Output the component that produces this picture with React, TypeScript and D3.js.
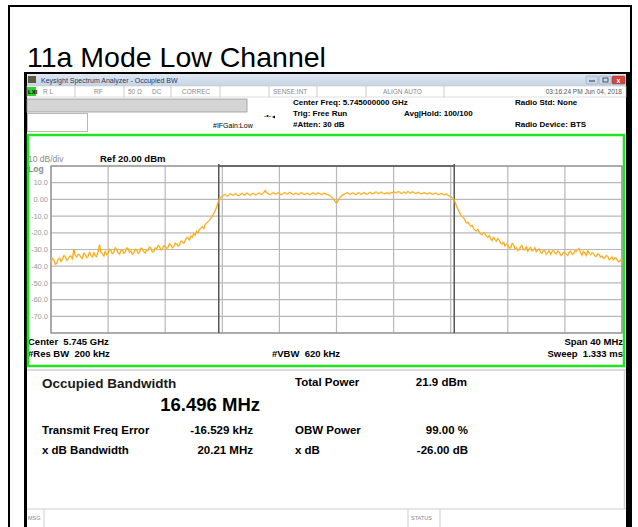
import React from 'react';
import * as d3 from 'd3';

// Page / screenshot texts
const chartTitle = '11a Mode Low Channel';
const windowTitle = 'Keysight Spectrum Analyzer - Occupied BW';
const timeStamp = '03:16:24 PM Jun 04, 2018';

// Sweep settings
const startOffsetMHz = -20; // relative to centre 5.745 GHz
const stopOffsetMHz = 20;
const stepMHz = 0.1;
const refLevelDbm = 20;
const bottomLevelDbm = -80;

// Measured trace (dBm), one value every 0.1 MHz from -20 MHz to +20 MHz
const traceDbm = [
  -37.5, -35.4, -36.2, -38.9, -38.4, -36.0, -35.1, -37.2, -36.0, -33.6, -34.2, -36.5, -35.8, -34.1, -33.9, -35.7, -29.8, -33.5, -34.6, -32.9,
  -33.2, -34.8, -35.4, -32.1, -32.8, -35.0, -34.1, -31.6, -33.5, -34.6, -31.9, -33.8, -34.3, -31.2, -27.2, -31.9, -32.4, -34.0, -31.0, -33.1,
  -32.6, -29.8, -30.4, -32.7, -31.8, -28.9, -29.7, -31.9, -32.9, -30.6, -30.2, -32.4, -31.5, -29.0, -29.4, -31.8, -30.8, -33.0, -32.1, -29.9,
  -30.0, -32.3, -31.7, -29.2, -29.5, -31.4, -32.2, -30.1, -30.6, -28.4, -29.1, -31.6, -31.3, -28.9, -29.8, -27.6, -28.2, -30.3, -29.6, -27.8,
  -27.9, -29.4, -28.8, -26.5, -27.1, -29.0, -28.3, -26.2, -26.6, -28.0, -27.4, -25.0, -25.2, -26.3, -24.6, -22.9, -23.0, -24.4, -21.8, -22.6,
  -20.4, -21.5, -19.0, -20.2, -18.1, -17.0, -16.3, -17.6, -15.2, -14.1, -13.4, -12.5, -11.2, -10.1, -8.5, -6.8, -4.6, -1.9, 0.4, 1.2,
  1.8, 2.6, 2.9, 2.1, 2.2, 3.0, 3.4, 2.5, 2.6, 3.5, 3.1, 2.3, 2.4, 3.2, 3.6, 2.7, 2.8, 3.9, 3.3, 2.6,
  2.7, 3.4, 3.5, 2.8, 2.9, 3.6, 3.8, 3.1, 3.2, 4.0, 5.4, 3.9, 3.6, 2.9, 3.0, 3.7, 4.1, 3.2, 3.3, 3.9,
  3.7, 2.9, 3.1, 3.8, 4.0, 3.3, 3.4, 4.1, 3.9, 3.2, 2.9, 3.7, 3.6, 3.0, 3.2, 3.9, 3.8, 3.1, 3.0, 3.6,
  3.5, 2.9, 3.1, 3.8, 3.7, 3.0, 3.3, 3.9, 3.6, 3.2, 3.0, 3.7, 3.4, 3.1, 2.8, 2.4, 1.9, 1.1, 0.3, -1.2,
  -2.3,
  -1.0, 0.6, 1.7, 2.4, 3.0, 3.3, 4.0, 3.8, 3.1, 3.2, 3.9, 3.6, 3.0, 3.1, 3.8, 3.9, 3.2, 3.4, 4.0,
  3.7, 3.1, 3.3, 4.1, 4.0, 3.4, 3.5, 4.2, 4.3, 3.6, 3.6, 4.3, 4.1, 3.5, 3.4, 4.0, 3.9, 3.3, 4.2, 3.8,
  4.8, 4.1, 3.9, 4.6, 4.4, 3.8, 3.7, 4.4, 4.2, 3.6, 4.9, 4.0, 3.8, 4.5, 4.3, 3.7, 3.6, 4.2, 4.0, 3.4,
  3.5, 4.0, 3.9, 3.2, 3.3, 3.9, 3.7, 3.1, 3.2, 3.8, 3.6, 3.0, 3.0, 3.5, 3.4, 2.9, 2.8, 3.1, 2.5, 2.1,
  1.6, 1.0, 0.2, -1.5, -3.8, -5.9, -7.5, -9.4, -10.2, -11.0, -12.4, -14.2, -13.6, -15.0, -16.1, -15.4, -17.4, -18.6, -18.8, -17.9,
  -19.5, -20.8, -21.2, -19.9, -20.4, -22.1, -22.8, -21.6, -23.5, -24.7, -22.6, -24.0, -25.1, -23.3, -24.4, -26.2, -26.8, -25.5, -28.0, -26.7,
  -27.4, -28.9, -29.3, -26.3, -26.9, -29.6, -28.8, -30.7, -30.1, -28.2, -27.6, -30.3, -29.9, -28.4, -31.2, -29.5, -28.7, -31.0, -30.4, -28.9,
  -31.5, -30.2, -29.6, -31.8, -32.3, -30.4, -30.8, -32.9, -31.9, -30.6, -33.0, -31.3, -30.5, -32.2, -32.6, -30.9, -31.4, -33.5, -33.2, -31.6,
  -31.8, -32.9, -33.6, -31.5, -30.9, -32.8, -32.7, -30.6, -31.2, -29.9, -29.4, -31.8, -33.4, -31.0, -32.0, -33.7, -30.7, -32.3, -33.1, -31.9,
  -32.4, -33.9, -34.2, -32.6, -32.9, -34.7, -33.8, -35.3, -35.1, -33.6, -34.0, -36.1, -35.6, -34.4, -36.3, -35.0, -35.2, -37.0, -37.4, -36.2,
  -38.1,
];

const yTickValues = [10, 0, -10, -20, -30, -40, -50, -60, -70];
const yTickLabels = ['10.0', '0.00', '-10.0', '-20.0', '-30.0', '-40.0', '-50.0', '-60.0', '-70.0'];

const obwMHz = 16.496;

// Instrument status / header texts
const statusItems = [
  { text: 'R L', x: 43 },
  { text: 'RF', x: 94 },
  { text: '50 Ω', x: 128 },
  { text: 'DC', x: 152 },
  { text: 'CORREC', x: 182 },
  { text: 'SENSE:INT', x: 273 },
  { text: 'ALIGN AUTO', x: 383 },
];
const statusDividers = [75, 124, 171, 220, 269, 317, 366, 444];
const headerLines = ['Center Freq: 5.745000000 GHz', 'Trig: Free Run', '#Atten: 30 dB'];

// Results table
const totalPower = ['Total Power', '21.9 dBm'];
const resultRows = [
  ['Transmit Freq Error', '-16.529 kHz', 'OBW Power', '99.00 %'],
  ['x dB Bandwidth', '20.21 MHz', 'x dB', '-26.00 dB'],
];

const FONT = 'Arial, "Liberation Sans", sans-serif';
const pre = { whiteSpace: 'pre' as const };

const App = () => {
  const left = 51;
  const right = 622;
  const top = 166;
  const bottom = 333;

  const x = d3.scaleLinear().domain([startOffsetMHz, stopOffsetMHz]).range([left, right]);
  const y = d3.scaleLinear().domain([bottomLevelDbm, refLevelDbm]).range([bottom, top]);

  const line = d3
    .line<number>()
    .x((_, i) => x(startOffsetMHz + i * stepMHz))
    .y((d) => y(d));
  const tracePath = line(traceDbm) ?? '';

  const xGrid = d3.range(startOffsetMHz, stopOffsetMHz + 0.01, 4);
  const yGrid = d3.range(bottomLevelDbm, refLevelDbm + 0.01, 10);
  const obwLeft = x(-obwMHz / 2);
  const obwRight = x(obwMHz / 2);

  return (
    <svg
      width={638}
      height={527}
      style={{ position: 'absolute', left: 0, top: 0, background: '#fff' }}
      fontFamily={FONT}
    >
      {/* outer page frame */}
      <rect x={8} y={5} width={2} height={522} fill="#000" />
      <rect x={8} y={5} width={624} height={2} fill="#000" />
      <rect x={630} y={5} width={2} height={522} fill="#000" />

      <text x={27} y={67} fontSize={28.5} fill="#000">{chartTitle}</text>

      {/* screenshot frame */}
      <rect x={24} y={72} width={606} height={455} fill="#fff" />
      <rect x={24} y={72} width={606} height={2} fill="#000" />
      <rect x={24} y={72} width={3} height={455} fill="#000" />
      <rect x={626} y={72} width={4} height={455} fill="#000" />

      {/* window title bar */}
      <defs>
        <linearGradient id="tb" x1="0" x2="0" y1="0" y2="1">
          <stop offset="0" stopColor="#dfe8f3" />
          <stop offset="1" stopColor="#c7d4e4" />
        </linearGradient>
      </defs>
      <rect x={27} y={74} width={599} height={12} fill="url(#tb)" />
      <rect x={28} y={76} width={8} height={7} fill="#5a5a3c" />
      <text x={41} y={83} fontSize={7} fill="#1f3a5f">{windowTitle}</text>
      <rect x={586} y={76} width={12} height={8} rx={1} fill="#c9daee" stroke="#8a9bb0" strokeWidth={0.5} />
      <rect x={599} y={76} width={12} height={8} rx={1} fill="#c9daee" stroke="#8a9bb0" strokeWidth={0.5} />
      <rect x={612} y={76} width={13} height={8} rx={1} fill="#d2483c" stroke="#8a3a30" strokeWidth={0.5} />
      <line x1={589} x2={595} y1={81} y2={81} stroke="#333" strokeWidth={1} />
      <rect x={603} y={78} width={5} height={4} fill="none" stroke="#333" strokeWidth={0.8} />
      <text x={618.5} y={83} fontSize={7} fill="#fff" textAnchor="middle" fontWeight="bold">x</text>

      {/* status row */}
      <rect x={27} y={86} width={599} height={11} fill="#fff" stroke="#c8c8c8" strokeWidth={0.6} />
      <rect x={27} y={87} width={9} height={9} fill="#2ed12e" />
      <text x={28} y={94} fontSize={6} fill="#000" fontWeight="bold">LXI</text>
      {statusDividers.map((d) => (
        <line key={d} x1={d} x2={d} y1={86} y2={97} stroke="#c0c0c0" strokeWidth={0.8} />
      ))}
      {statusItems.map((s) => (
        <text key={s.text} x={s.x} y={94} fontSize={6.5} fill="#8a8a8a">{s.text}</text>
      ))}
      <text x={622} y={94} fontSize={6.5} fill="#555" textAnchor="end">{timeStamp}</text>

      {/* header */}
      <rect x={27} y={99} width={220} height={13} fill="#d5d5d5" stroke="#9a9a9a" strokeWidth={0.8} />
      <rect x={27.5} y={113.5} width={60} height={18} fill="#fff" stroke="#b8b8b8" strokeWidth={1} />
      <text x={213} y={128} fontSize={7} fill="#000">#IFGain:Low</text>
      <text x={264} y={118} fontSize={7} fill="#000">{'-•-'}</text>
      <path d="M272,117 l3,-1.5 v3 z" fill="#000" />
      {headerLines.map((t, i) => (
        <text key={t} x={293} y={105 + i * 11} fontSize={8} fontWeight="bold" fill="#000">{t}</text>
      ))}
      <text x={404} y={116} fontSize={8} fontWeight="bold" fill="#000">Avg|Hold: 100/100</text>
      <text x={515} y={105} fontSize={8} fontWeight="bold" fill="#000">Radio Std: None</text>
      <text x={515} y={127} fontSize={8} fontWeight="bold" fill="#000">Radio Device: BTS</text>

      {/* plot header */}
      <text x={28} y={162} fontSize={8.5} fill="#8a8a8a">10 dB/div</text>
      <text x={28} y={172} fontSize={8.5} fill="#8a8a8a" fontWeight="bold">Log</text>
      <text x={100} y={162} fontSize={9.5} fontWeight="bold" fill="#000">Ref 20.00 dBm</text>

      {/* grid */}
      {yGrid.map((v) => (
        <line key={'h' + v} x1={left} x2={right} y1={y(v)} y2={y(v)} stroke="#b8b8b8" strokeWidth={1.2} />
      ))}
      {xGrid.map((v) => (
        <line key={'v' + v} x1={x(v)} x2={x(v)} y1={top} y2={bottom} stroke="#b8b8b8" strokeWidth={1.2} />
      ))}
      <rect x={left} y={top} width={right - left} height={bottom - top} fill="none" stroke="#8c8c8c" strokeWidth={1.2} />
      <line x1={obwLeft} x2={obwRight} y1={top} y2={top} stroke="#555" strokeWidth={1.5} />
      {[obwLeft, obwRight].map((v) => (
        <line key={v} x1={v} x2={v} y1={top - 2} y2={bottom} stroke="#555" strokeWidth={1.5} />
      ))}
      {yTickValues.map((v, i) => (
        <text key={v} x={48} y={y(v)} dy="0.35em" fontSize={7.5} fill="#9a9a9a" textAnchor="end">
          {yTickLabels[i]}
        </text>
      ))}

      <path d={tracePath} fill="none" stroke="#ffcc70" strokeWidth={2} strokeOpacity={0.5} />
      <path d={tracePath} fill="none" stroke="#f7a400" strokeWidth={1} />

      {/* plot footer */}
      <text x={28} y={345} fontSize={9.5} fontWeight="bold" style={pre}>Center  5.745 GHz</text>
      <text x={28} y={357} fontSize={9.5} fontWeight="bold" style={pre}>#Res BW  200 kHz</text>
      <text x={306} y={357} fontSize={9.5} fontWeight="bold" textAnchor="middle" style={pre}>#VBW  620 kHz</text>
      <text x={623} y={345} fontSize={9.5} fontWeight="bold" textAnchor="end">Span 40 MHz</text>
      <text x={623} y={357} fontSize={9.5} fontWeight="bold" textAnchor="end" style={pre}>Sweep  1.333 ms</text>

      <rect x={28} y={135} width={596} height={231} fill="none" stroke="#1fe41f" strokeWidth={2.5} />

      {/* results panel */}
      <line x1={27} x2={626} y1={370} y2={370} stroke="#cfcfcf" strokeWidth={1.5} />
      <line x1={624.5} x2={624.5} y1={370} y2={509} stroke="#cfcfcf" strokeWidth={1.5} />
      <text x={42} y={388} fontSize={13.5} fontWeight="bold" fill="#1a1a1a">Occupied Bandwidth</text>
      <text x={260} y={411} fontSize={18.5} fontWeight="bold" fill="#000" textAnchor="end">16.496 MHz</text>
      <text x={295} y={386} fontSize={11.5} fontWeight="bold">{totalPower[0]}</text>
      <text x={467} y={386} fontSize={11.5} fontWeight="bold" textAnchor="end">{totalPower[1]}</text>
      {resultRows.map((r, i) => (
        <g key={r[0]} fontSize={11.5} fontWeight="bold">
          <text x={42} y={434 + i * 20}>{r[0]}</text>
          <text x={253} y={434 + i * 20} textAnchor="end">{r[1]}</text>
          <text x={295} y={434 + i * 20}>{r[2]}</text>
          <text x={468} y={434 + i * 20} textAnchor="end">{r[3]}</text>
        </g>
      ))}

      {/* message bar */}
      <line x1={27} x2={626} y1={509} y2={509} stroke="#cfcfcf" strokeWidth={1.2} />
      <line x1={44} x2={44} y1={509} y2={527} stroke="#cfcfcf" strokeWidth={1} />
      <line x1={408} x2={408} y1={509} y2={527} stroke="#cfcfcf" strokeWidth={1} />
      <line x1={440} x2={440} y1={509} y2={527} stroke="#cfcfcf" strokeWidth={1} />
      <text x={28} y={520} fontSize={5.5} fill="#888">MSG</text>
      <text x={411} y={520} fontSize={5.5} fill="#888">STATUS</text>
    </svg>
  );
};

export default App;
